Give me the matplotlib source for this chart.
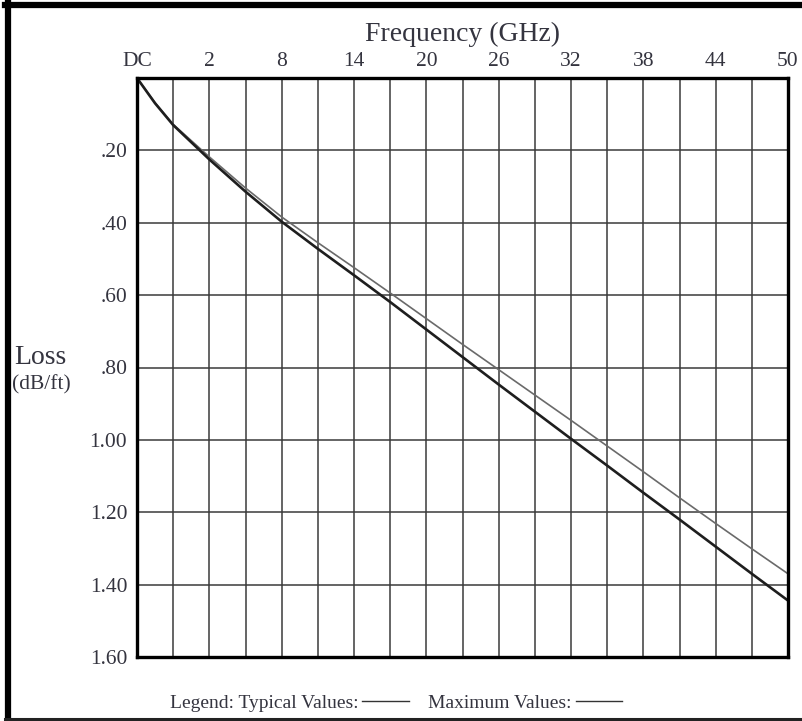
import numpy as np
import matplotlib
matplotlib.use("Agg")
import matplotlib.pyplot as plt
from matplotlib.lines import Line2D

# ---- data ----
freq_ghz = [0, 0.5, 1, 2, 5, 8, 11, 14, 17, 20, 23, 26, 29, 32, 35, 38, 41, 44, 47, 50]
loss_typical = [0.0, 0.068, 0.128, 0.218, 0.304, 0.384, 0.455, 0.524, 0.594, 0.665,
                0.736, 0.806, 0.876, 0.946, 1.017, 1.088, 1.160, 1.231, 1.301, 1.370]
loss_maximum = [0.0, 0.070, 0.130, 0.225, 0.314, 0.397, 0.472, 0.545, 0.619, 0.695,
                0.771, 0.847, 0.922, 0.997, 1.071, 1.146, 1.220, 1.295, 1.370, 1.444]

x_major = [0, 2, 8, 14, 20, 26, 32, 38, 44, 50]
x_major_labels = ["DC", "2", "8", "14", "20", "26", "32", "38", "44", "50"]
x_minor = [1, 5, 11, 17, 23, 29, 35, 41, 47]
y_ticks = [0.20, 0.40, 0.60, 0.80, 1.00, 1.20, 1.40, 1.60]
y_labels = [".20", ".40", ".60", ".80", "1.00", "1.20", "1.40", "1.60"]

TXT = "#34343f"
plt.rcParams["font.family"] = ["Liberation Serif", "DejaVu Serif"]


def fwd(f):
    f = np.asarray(f, dtype=float)
    return np.where(f <= 2, f / 2.0, 1.0 + (f - 2.0) / 6.0)


def inv(p):
    p = np.asarray(p, dtype=float)
    return np.where(p <= 1, 2.0 * p, 2.0 + 6.0 * (p - 1.0))


fig = plt.figure(figsize=(8.02, 7.21), dpi=100)
ax = fig.add_axes([137 / 802, 1 - 657 / 721, (788 - 137) / 802, (657 - 78) / 721])

ax.set_xscale("function", functions=(fwd, inv))
ax.set_xlim(0, 50)
ax.set_ylim(1.6, 0)

ax.set_xticks(x_major)
ax.set_xticklabels(x_major_labels)
ax.set_xticks(x_minor, minor=True)
ax.set_yticks(y_ticks)
ax.set_yticklabels(y_labels)
ax.xaxis.tick_top()
ax.tick_params(axis="x", which="both", length=0, pad=5, labelsize=15.5, colors=TXT)
ax.tick_params(axis="y", length=0, pad=7, labelsize=15.5, colors=TXT)

ax.grid(True, which="both", color="#3a3a3a", linewidth=1.1)
ax.set_axisbelow(True)
for s in ax.spines.values():
    s.set_linewidth(2.4)
    s.set_color("black")

l_typ, = ax.plot(freq_ghz, loss_typical, color="#6a6a6a", linewidth=1.2)
l_max, = ax.plot(freq_ghz, loss_maximum, color="#1e1e1e", linewidth=1.9)

ax.xaxis.set_label_position("top")
ax.set_xlabel("Frequency (GHz)", fontsize=20, color=TXT, labelpad=8)

fig.text(40 / 802, 1 - 357 / 721, "Loss", fontsize=20, color=TXT, ha="center", va="center")
fig.text(41 / 802, 1 - 385 / 721, "(dB/ft)", fontsize=15.5, color=TXT, ha="center", va="center")

h1 = Line2D([], [], color="#333333", linewidth=1.0)
h2 = Line2D([], [], color="#333333", linewidth=1.0)
fig.legend([h1, h2], ["Legend: Typical Values:", "Maximum Values:"],
           loc="center", bbox_to_anchor=(396 / 802, 1 - 703 / 721), ncol=2,
           markerfirst=False, frameon=False, fontsize=14, handlelength=2.4,
           handletextpad=0.2, columnspacing=1.0, labelcolor=TXT)

# outer frame
fig.add_artist(Line2D([8 / 802, 8 / 802], [0, 1 - 2 / 721], color="black", linewidth=4.5,
                      transform=fig.transFigure))
fig.add_artist(Line2D([5 / 802, 1], [1 - 5 / 721, 1 - 5 / 721], color="black", linewidth=4.5,
                      transform=fig.transFigure))
fig.add_artist(Line2D([5 / 802, 1], [1 - 719 / 721, 1 - 719 / 721], color="#222222", linewidth=2.2,
                      transform=fig.transFigure))

fig.savefig("out.png", dpi=100, facecolor="white")
